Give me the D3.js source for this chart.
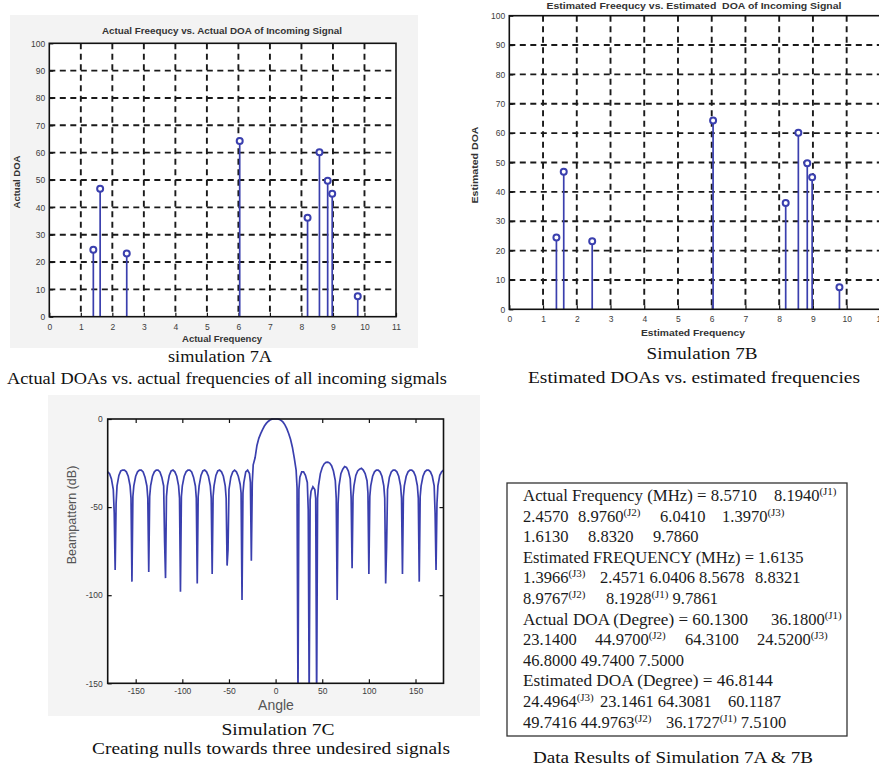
<!DOCTYPE html>
<html>
<head>
<meta charset="utf-8">
<script src="https://cdnjs.cloudflare.com/ajax/libs/d3/7.8.5/d3.min.js"></script>
<style>
body { margin: 0; background: #fff; }
svg text { white-space: pre; }
</style>
</head>
<body>
<svg width="879" height="772"></svg>
<script>
// データ (表と同じ並び)
var actualFreq = [8.5710, 8.1940, 2.4570, 8.9760, 6.0410, 1.3970, 1.6130, 8.8320, 9.7860];
var actualDoa  = [60.1300, 36.1800, 23.1400, 44.9700, 64.3100, 24.5200, 46.8000, 49.7400, 7.5000];
var estFreq    = [1.6135, 1.3966, 2.4571, 6.0406, 8.5678, 8.8321, 8.9767, 8.1928, 9.7861];
var estDoa     = [46.8144, 24.4964, 23.1461, 64.3081, 60.1187, 49.7416, 44.9763, 36.1727, 7.5100];

// 目盛り
var freqTicks  = [0, 1, 2, 3, 4, 5, 6, 7, 8, 9, 10, 11];
var doaTicks   = [0, 10, 20, 30, 40, 50, 60, 70, 80, 90, 100];
var angleTicks = [-150, -100, -50, 0, 50, 100, 150];
var dbTicks    = [0, -50, -100, -150];

// ビームパターン [角度, dB]
var beam = [
    [-180,-30],[-178,-31],[-176,-34],[-174,-40],[-173,-53.4],[-172,-85.7],[-171,-48],[-170,-38],
    [-168,-32],[-166,-29.5],[-164,-29],[-162,-29],[-160,-30],[-158,-32.5],[-156,-38],[-155,-45],[-154,-92.3],[-153,-44],[-152,-38],
    [-150,-32.5],[-148,-30],[-146,-29],[-144,-29],[-142,-30],[-140,-33],[-138,-38],[-137,-45],[-136,-86.8],[-135,-44],[-134,-38],
    [-132,-32.5],[-130,-30],[-128,-29],[-126,-29],[-124,-30],[-122,-33],[-120,-38],[-119,-69.6],[-118,-90.3],[-117,-44],[-116,-38],
    [-114,-32],[-112,-29.5],[-110,-29],[-108,-30],[-106,-32.5],[-104,-38],[-103,-45],[-102,-98],[-101,-44],[-100,-38],
    [-98,-32.5],[-96,-30],[-94,-29],[-92,-29],[-90,-30],[-88,-33],[-86,-38],[-85,-45],[-84,-93.3],[-83,-44],[-82,-38],
    [-80,-32],[-78,-29.5],[-76,-29],[-74,-30],[-72,-32.5],[-70,-38],[-69,-45],[-68,-88],[-67,-44],[-66,-38],
    [-64,-32],[-62,-29.5],[-60,-29],[-58,-30],[-56,-32.5],[-54,-38],[-53,-45],[-52,-83.2],[-51,-74],[-50,-40],
    [-48,-33],[-46,-30],[-44,-29],[-42,-30],[-40,-32.5],[-38,-37],[-37,-42],[-36,-102.7],[-35,-42],[-34,-36],
    [-32,-30],[-30,-29],[-28,-31],[-27,-36],[-26,-80.4],[-25,-36],[-24,-26],
    [-22,-22],[-20,-15],[-18,-11],[-16,-8.3],[-14,-6],[-12,-4],[-10,-2.5],[-8,-1.4],[-6,-0.6],[-4,-0.1],[-2,0],[0,0],
    [2,0],[4,-0.2],[6,-0.8],[8,-1.8],[10,-3.3],[12,-5.5],[14,-8.2],[16,-11.5],[18,-16],[20,-22],[22,-29],[23,-39],[24,-160],[25,-40],[26,-33],
    [28,-30],[30,-30],[32,-32],[34,-36],[35,-51.6],[36,-160],[37,-46],[38,-41],
    [40,-38.5],[42,-40],[43,-45],[44,-160],[45,-45],[46,-38],
    [48,-31],[50,-27.5],[52,-25.5],[54,-24.6],[56,-24.5],[58,-25],[60,-26.5],[62,-29.5],[64,-35],[65,-45],[66,-102.7],[67,-48],[68,-38],
    [70,-31],[72,-28.5],[74,-27],[76,-27.5],[78,-29.5],[80,-34],[81,-45],[82,-84.7],[83,-44],[84,-38],
    [86,-32],[88,-29.5],[90,-28.5],[92,-28],[94,-29],[96,-31],[98,-35],[99,-42],[100,-88],[101,-44],[102,-38],
    [104,-32.5],[106,-30],[108,-29],[110,-29],[112,-30],[114,-32.5],[116,-38],[117,-45],[118,-93.3],[119,-72.5],[120,-40],
    [122,-33],[124,-30],[126,-29],[128,-29],[130,-30],[132,-32.5],[134,-38],[135,-45],[136,-88],[137,-44],[138,-38],
    [140,-32.5],[142,-30],[144,-29],[146,-29],[148,-30],[150,-32.5],[152,-38],[153,-45],[154,-92.3],[155,-44],[156,-38],
    [158,-32.5],[160,-30],[162,-29],[164,-29],[166,-30],[168,-32.5],[170,-38],[171,-53.4],[172,-85.7],[173,-48],[174,-38],
    [176,-32],[178,-30],[180,-29]
];

// 表の行 (上付きは "sup")
var tableLines = [
    [["Actual Frequency (MHz) = 8.5710"], ["8.1940"], ["(J1)", "sup"]],
    [["2.4570"], ["8.9760"], ["(J2)", "sup"], ["6.0410"], ["1.3970"], ["(J3)", "sup"]],
    [["1.6130"], ["8.8320"], ["9.7860"]],
    [["Estimated FREQUENCY (MHz) = 1.6135"]],
    [["1.3966"], ["(J3)", "sup"], ["2.4571 6.0406 8.5678"], ["8.8321"]],
    [["8.9767"], ["(J2)", "sup"], ["8.1928"], ["(J1)", "sup"], [" 9.7861"]],
    [["Actual DOA (Degree) = 60.1300"], ["36.1800"], ["(J1)", "sup"]],
    [["23.1400"], ["44.9700"], ["(J2)", "sup"], ["64.3100"], ["24.5200"], ["(J3)", "sup"]],
    [["46.8000 49.7400 7.5000"]],
    [["Estimated DOA (Degree) = 46.8144"]],
    [["24.4964"], ["(J3)", "sup"], ["23.1461 64.3081"], ["60.1187"]],
    [["49.7416 44.9763"], ["(J2)", "sup"], ["36.1727"], ["(J1)", "sup"], [" 7.5100"]]
];
// 表の各段の開始位置 (null は直前に続ける)
var tableX = [
    [523, 774, null],
    [523, 578, null, 660, 722, null],
    [523, 588, 653],
    [523],
    [523, null, 600, 755],
    [523, null, 606, null, null],
    [523, 771, null],
    [523, 595, null, 685, 757, null],
    [523],
    [523],
    [523, null, 600, 728],
    [523, null, 666, null, null]
];
// 長い見出し部分の幅
var tableLen = [234, null, null, null, null, null, 225, null, null, 250, null, null];

// 固定値
var BLUE = "#3a3fae";
var SANS = "'Liberation Sans', Arial, sans-serif";
var SERIF = "'Liberation Serif', 'Times New Roman', serif";
var LABEL_COLOR = "#3c3c3c";

var svg = d3.select("svg");

// 軸の見た目を揃える
function style_axis(g){
    g.attr("font-family", SANS).attr("font-size", 8.5);
    g.selectAll("text").attr("fill", LABEL_COLOR);
    g.selectAll("line").attr("stroke", "#111").attr("stroke-width", 1.2);
    g.select(".domain").remove();
}

function small_label(text, px, py, len, rotate){
    let t = svg.append("text")
        .attr("x", px).attr("y", py)
        .attr("text-anchor", "middle")
        .attr("font-family", SANS)
        .attr("font-size", 9)
        .attr("font-weight", "bold")
        .attr("fill", "#333")
        .attr("textLength", len)
        .attr("lengthAdjust", "spacingAndGlyphs")
        .text(text);
    if(rotate){
        t.attr("transform", "rotate(-90," + px + "," + py + ")");
    }
}

function caption(text, px, py, len){
    svg.append("text")
        .attr("x", px).attr("y", py)
        .attr("text-anchor", "middle")
        .attr("font-family", SERIF)
        .attr("font-size", 17)
        .attr("fill", "#111")
        .attr("textLength", len)
        .attr("lengthAdjust", "spacingAndGlyphs")
        .text(text);
}

// ステムプロット
function draw_stem(p){
    let g = svg.append("g");
    let x = d3.scaleLinear().domain([0, 11]).range([p.left, p.right]);
    let y = d3.scaleLinear().domain([0, 100]).range([p.bottom, p.top]);

    g.append("rect")
        .attr("x", p.left).attr("y", p.top)
        .attr("width", p.right - p.left).attr("height", p.bottom - p.top)
        .attr("fill", "#fff");

    // グリッド(点線)
    g.selectAll(".vgrid")
        .data(freqTicks.slice(1, -1))
        .enter()
        .append("line")
        .attr("x1", d => x(d)).attr("x2", d => x(d))
        .attr("y1", p.top).attr("y2", p.bottom)
        .attr("stroke", "#1a1a1a")
        .attr("stroke-width", 1.9)
        .attr("stroke-dasharray", "6,4.5");
    g.selectAll(".hgrid")
        .data(doaTicks.slice(1, -1))
        .enter()
        .append("line")
        .attr("x1", p.left).attr("x2", p.right)
        .attr("y1", d => y(d)).attr("y2", d => y(d))
        .attr("stroke", "#1a1a1a")
        .attr("stroke-width", 1.9)
        .attr("stroke-dasharray", "6,4.5");

    // 軸
    g.append("g")
        .attr("transform", "translate(0," + p.bottom + ")")
        .call(d3.axisBottom(x).tickValues(freqTicks).tickSize(-4).tickSizeOuter(0).tickPadding(7))
        .call(style_axis);
    g.append("g")
        .attr("transform", "translate(" + p.left + ",0)")
        .call(d3.axisLeft(y).tickValues(doaTicks).tickSize(-4).tickSizeOuter(0).tickPadding(4))
        .call(style_axis);

    // ステム
    let pts = p.freq.map((f, i) => [f, p.doa[i]]);
    g.selectAll(".stem")
        .data(pts)
        .enter()
        .append("line")
        .attr("x1", d => x(d[0])).attr("x2", d => x(d[0]))
        .attr("y1", y(0)).attr("y2", d => y(d[1]))
        .attr("stroke", BLUE)
        .attr("stroke-width", 1.7);
    g.selectAll(".mark")
        .data(pts)
        .enter()
        .append("circle")
        .attr("cx", d => x(d[0]))
        .attr("cy", d => y(d[1]))
        .attr("r", 3)
        .attr("fill", "#fff")
        .attr("stroke", BLUE)
        .attr("stroke-width", 2);

    // 枠
    g.append("rect")
        .attr("x", p.left).attr("y", p.top)
        .attr("width", p.right - p.left).attr("height", p.bottom - p.top)
        .attr("fill", "none")
        .attr("stroke", "#111")
        .attr("stroke-width", 1.6);

    small_label(p.title, p.titleX, p.titleY, p.titleLen, false);
    small_label(p.xlabel, p.xlabelX, p.xlabelY, p.xlabelLen, false);
    small_label(p.ylabel, p.ylabelX, p.ylabelY, p.ylabelLen, true);
}

// ビームパターン
function draw_beam(){
    let left = 107.7, right = 443.5, top = 419, bottom = 683.3;
    let g = svg.append("g");
    let x = d3.scaleLinear().domain([-180, 180]).range([left, right]);
    let y = d3.scaleLinear().domain([-150, 0]).range([bottom, top]);

    g.append("rect")
        .attr("x", left).attr("y", top)
        .attr("width", right - left).attr("height", bottom - top)
        .attr("fill", "#fff");

    svg.append("clipPath").attr("id", "beamclip")
        .append("rect")
        .attr("x", left).attr("y", top - 3)
        .attr("width", right - left).attr("height", bottom - top + 3);

    let line = d3.line()
        .x(d => x(d[0]))
        .y(d => y(d[1]));
    g.append("path")
        .datum(beam)
        .attr("d", line)
        .attr("clip-path", "url(#beamclip)")
        .attr("fill", "none")
        .attr("stroke", BLUE)
        .attr("stroke-width", 1.7)
        .attr("stroke-linejoin", "miter");

    let fmt = d => String(d);
    g.append("g")
        .attr("transform", "translate(0," + bottom + ")")
        .call(d3.axisBottom(x).tickValues(angleTicks).tickFormat(fmt).tickSize(-4).tickSizeOuter(0).tickPadding(5))
        .call(style_axis);
    g.append("g")
        .attr("transform", "translate(0," + top + ")")
        .call(d3.axisTop(x).tickValues(angleTicks.filter(d => d != 0)).tickFormat("").tickSize(-4).tickSizeOuter(0))
        .call(style_axis);
    g.append("g")
        .attr("transform", "translate(" + left + ",0)")
        .call(d3.axisLeft(y).tickValues(dbTicks).tickFormat(fmt).tickSize(-4).tickSizeOuter(0).tickPadding(5))
        .call(style_axis);
    g.append("g")
        .attr("transform", "translate(" + right + ",0)")
        .call(d3.axisRight(y).tickValues(dbTicks.slice(1, -1)).tickFormat("").tickSize(-4).tickSizeOuter(0))
        .call(style_axis);

    g.append("rect")
        .attr("x", left).attr("y", top)
        .attr("width", right - left).attr("height", bottom - top)
        .attr("fill", "none")
        .attr("stroke", "#111")
        .attr("stroke-width", 1.6);

    svg.append("text")
        .attr("x", 276).attr("y", 710)
        .attr("text-anchor", "middle")
        .attr("font-family", SANS).attr("font-size", 14)
        .attr("fill", "#555")
        .text("Angle");
    svg.append("text")
        .attr("x", 76).attr("y", 515)
        .attr("text-anchor", "middle")
        .attr("font-family", SANS).attr("font-size", 12.5)
        .attr("fill", "#555")
        .attr("transform", "rotate(-90,76,515)")
        .text("Beampattern (dB)");
}

// 結果の表
function draw_table(){
    svg.append("rect")
        .attr("x", 507).attr("y", 483)
        .attr("width", 340).attr("height", 253)
        .attr("fill", "#fff")
        .attr("stroke", "#333")
        .attr("stroke-width", 1.3);

    let t = svg.append("text")
        .attr("font-family", SERIF)
        .attr("font-size", 16.5)
        .attr("fill", "#1a1a1a");
    tableLines.forEach(function(segs, i){
        let base = 501 + i * 20.6;
        segs.forEach(function(s, j){
            let ts = t.append("tspan").text(s[0]);
            if(tableX[i][j] != null){
                ts.attr("x", tableX[i][j]);
            }
            if(j == 0 && tableLen[i] != null){
                ts.attr("textLength", tableLen[i]).attr("lengthAdjust", "spacingAndGlyphs");
            }
            if(s[1] == "sup"){
                ts.attr("y", base - 6).attr("font-size", 11);
            }else{
                ts.attr("y", base);
            }
        });
    });
}

// 背景
svg.append("rect").attr("x", 10).attr("y", 15).attr("width", 408).attr("height", 333).attr("fill", "#f3f3f3");
svg.append("rect").attr("x", 48).attr("y", 395).attr("width", 432).attr("height", 321).attr("fill", "#f4f4f4");

draw_stem({
    left: 49.3, right: 396, top: 43.3, bottom: 316.7,
    freq: actualFreq, doa: actualDoa,
    title: "Actual Freequcy vs. Actual DOA of Incoming Signal", titleX: 222, titleY: 34, titleLen: 240,
    xlabel: "Actual Frequency", xlabelX: 222, xlabelY: 342, xlabelLen: 80,
    ylabel: "Actual DOA", ylabelX: 20, ylabelY: 182, ylabelLen: 53
});
draw_stem({
    left: 509.3, right: 880.4, top: 15.7, bottom: 309.3,
    freq: estFreq, doa: estDoa,
    title: "Estimated Freequcy vs. Estimated  DOA of Incoming Signal", titleX: 694, titleY: 8.5, titleLen: 295,
    xlabel: "Estimated Frequency", xlabelX: 693, xlabelY: 336, xlabelLen: 104,
    ylabel: "Estimated DOA", ylabelX: 478, ylabelY: 165, ylabelLen: 77
});
draw_beam();
draw_table();

caption("simulation 7A", 220, 362, 104);
caption("Actual DOAs vs. actual frequencies of all incoming sigmals", 227, 384, 440);
caption("Simulation 7B", 702, 359, 111);
caption("Estimated DOAs vs. estimated frequencies", 694, 383, 332);
caption("Simulation 7C", 278, 735, 113);
caption("Creating nulls towards three undesired signals", 271, 754, 358);
caption("Data Results of Simulation 7A & 7B", 673, 763, 280);
</script>
</body>
</html>
